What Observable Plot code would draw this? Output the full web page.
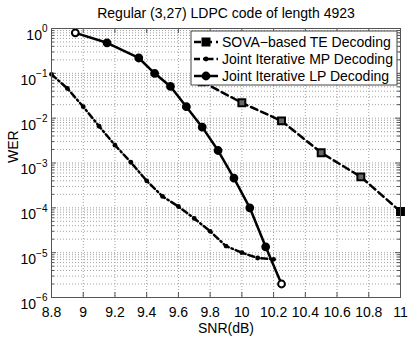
<!DOCTYPE html>
<html><head><meta charset="utf-8">
<script src="https://cdn.jsdelivr.net/npm/d3@7"></script>
<script src="https://cdn.jsdelivr.net/npm/@observablehq/plot@0.6"></script>
<style>
body{margin:0;background:#fff;}
#chart svg{font-family:"Liberation Sans",Arial,Helvetica,sans-serif;}
</style></head><body><div id="chart"></div>
<script>
const title = "Regular (3,27) LDPC code of length 4923";
const xLabel = "SNR(dB)";
const yLabel = "WER";
const seriesNames = ["SOVA\u2212based TE Decoding", "Joint Iterative MP Decoding", "Joint Iterative LP Decoding"];

const snrSOVA = [9.75, 10.0, 10.25, 10.5, 10.75, 11.0];
const werSOVA = [0.065, 0.022, 0.0087, 0.0017, 4.9e-4, 8.3e-5];

const snrMP = [8.8, 8.9, 9.0, 9.1, 9.2, 9.3, 9.4, 9.5, 9.6, 9.7, 9.8, 9.9, 10.0, 10.1, 10.2];
const werMP = [0.095, 0.046, 0.018, 0.0066, 0.0025, 0.00104, 4.0e-4, 1.8e-4, 1.07e-4, 5.8e-5, 3.0e-5, 1.4e-5, 1.0e-5, 7.6e-6, 7.1e-6];

const snrLP = [8.95, 9.15, 9.35, 9.45, 9.55, 9.65, 9.75, 9.85, 9.95, 10.05, 10.15, 10.25];
const werLP = [0.80, 0.48, 0.22, 0.10, 0.051, 0.018, 0.0063, 0.0019, 4.6e-4, 1.0e-4, 1.35e-5, 2.0e-6];

const xTicks = [8.8, 9, 9.2, 9.4, 9.6, 9.8, 10, 10.2, 10.4, 10.6, 10.8, 11];
const xTickLabels = ["8.8", "9", "9.2", "9.4", "9.6", "9.8", "10", "10.2", "10.4", "10.6", "10.8", "11"];
const yDecades = [1e-6, 1e-5, 1e-4, 1e-3, 1e-2, 1e-1, 1];
const yExponents = ["\u22126", "\u22125", "\u22124", "\u22123", "\u22122", "\u22121", "0"];

const toRows = (xs, ys) => xs.map((x, i) => ({snr: x, wer: ys[i], end: i === 0 || i === xs.length - 1}));
const sova = toRows(snrSOVA, werSOVA);
const mp = toRows(snrMP, werMP);
const lp = toRows(snrLP, werLP);

const minor = yDecades.slice(0, -1).flatMap(d => [2,3,4,5,6,7,8,9].map(k => k * d));
const xLabelMap = new Map(xTicks.map((t, i) => [t, xTickLabels[i]]));
const yLabelMap = new Map(yDecades.map((t, i) => [t, yExponents[i]]));

const W = 411, H = 338, mL = 51, mR = 11, mT = 28, mB = 41;
const innerW = W - mL - mR, innerH = H - mT - mB;
const tk = 5, tkMinor = 3;
const gridStyle = {stroke: "#a0a0a0", strokeDasharray: "1,2", strokeWidth: 1};
const axisColor = "#555";

const plot = Plot.plot({
  width: W, height: H,
  marginLeft: mL, marginRight: mR, marginTop: mT, marginBottom: mB,
  style: {fontFamily: '"Liberation Sans",Arial,Helvetica,sans-serif', fontSize: "14px", background: "white", color: "black"},
  x: {domain: [8.8, 11]},
  y: {type: "log", domain: [1e-6, 1]},
  marks: [
    Plot.ruleX(xTicks, {x: d => d, ...gridStyle}),
    Plot.ruleY(minor.concat(yDecades), {y: d => d, ...gridStyle}),
    // inward ticks
    Plot.ruleX(xTicks, {x: d => d, insetTop: innerH - tk, stroke: axisColor}),
    Plot.ruleX(xTicks, {x: d => d, insetBottom: innerH - tk, stroke: axisColor}),
    Plot.ruleY(yDecades, {y: d => d, insetRight: innerW - tk, stroke: axisColor}),
    Plot.ruleY(yDecades, {y: d => d, insetLeft: innerW - tk, stroke: axisColor}),
    Plot.ruleY(minor, {y: d => d, insetRight: innerW - tkMinor, stroke: axisColor}),
    Plot.ruleY(minor, {y: d => d, insetLeft: innerW - tkMinor, stroke: axisColor}),
    // series
    Plot.line(sova, {x: "snr", y: "wer", stroke: "black", strokeWidth: 2.5, strokeDasharray: "7,4"}),
    Plot.dot(sova, {x: "snr", y: "wer", symbol: "square", r: 3.9, stroke: "black", strokeWidth: 2, fill: d => d.end ? "black" : "#666"}),
    Plot.line(mp, {x: "snr", y: "wer", stroke: "black", strokeWidth: 2.5, strokeDasharray: "6,3,1.5,3"}),
    Plot.dot(mp, {x: "snr", y: "wer", r: 2.4, fill: "black", stroke: "none"}),
    Plot.line(lp, {x: "snr", y: "wer", stroke: "black", strokeWidth: 2.5}),
    Plot.dot(lp, {x: "snr", y: "wer", r: 3.4, stroke: "black", strokeWidth: 2, fill: d => d.end ? "white" : "black"}),
    Plot.frame({stroke: axisColor}),
    // axes
    Plot.axisX(xTicks, {tickSize: 0, tickPadding: 10, tickFormat: d => xLabelMap.get(d), fontSize: 14, label: null}),
    Plot.axisY(yDecades, {tickSize: 0, tickPadding: 4, tickFormat: d => "10|" + yLabelMap.get(d), fontSize: 14, label: null}),
    Plot.text([yLabel], {text: d => d, frameAnchor: "left", dx: -38, rotate: -90, fontSize: 14, lineAnchor: "middle"}),
    Plot.text([xLabel], {text: d => d, frameAnchor: "bottom", dy: 31, fontSize: 14, lineAnchor: "middle"}),
    Plot.text([title], {text: d => d, frameAnchor: "top", dy: -15, fontSize: 14, lineAnchor: "middle"})
  ]
});

document.getElementById("chart").append(plot);
const svg = d3.select(plot);

// superscript exponents on y tick labels
svg.selectAll("text").filter(function() { return this.textContent.startsWith("10|"); }).each(function() {
  const t = d3.select(this);
  const [base, exp] = this.textContent.split("|");
  t.text(null).attr("dy", "0.5em");
  t.append("tspan").text(base);
  t.append("tspan").attr("dy", "-0.75em").attr("font-size", "10px").text(exp);
});

// legend box
const lg = svg.append("g").attr("font-size", "14px").attr("text-anchor", "start");
lg.append("rect").attr("x", 191).attr("y", 31).attr("width", 206).attr("height", 54)
  .style("fill", "white").style("stroke", "#444").style("stroke-width", "1px");
const rowsY = [42, 59, 76];
const styles = [
  {dash: "7,4", marker: "square"},
  {dash: "6,3,1.5,3", marker: "dot"},
  {dash: null, marker: "circle"}
];
rowsY.forEach((y, i) => {
  const s = styles[i];
  const ln = lg.append("line").attr("x1", 194).attr("x2", 218).attr("y1", y).attr("y2", y)
    .style("stroke", "black").style("stroke-width", "2.5px");
  if (s.dash) ln.style("stroke-dasharray", s.dash);
  if (s.marker === "square") lg.append("rect").attr("x", 202.5).attr("y", y - 3.5).attr("width", 7).attr("height", 7).style("fill", "black").style("stroke", "black").style("stroke-width", "2px");
  if (s.marker === "dot") lg.append("circle").attr("cx", 206).attr("cy", y).attr("r", 2.4).style("fill", "black");
  if (s.marker === "circle") lg.append("circle").attr("cx", 206).attr("cy", y).attr("r", 3.4).style("fill", "black").style("stroke", "black").style("stroke-width", "2px");
  lg.append("text").attr("x", 222).attr("y", y).attr("dy", "0.35em").style("text-anchor", "start").style("fill", "black").text(seriesNames[i]);
});
</script></body></html>
